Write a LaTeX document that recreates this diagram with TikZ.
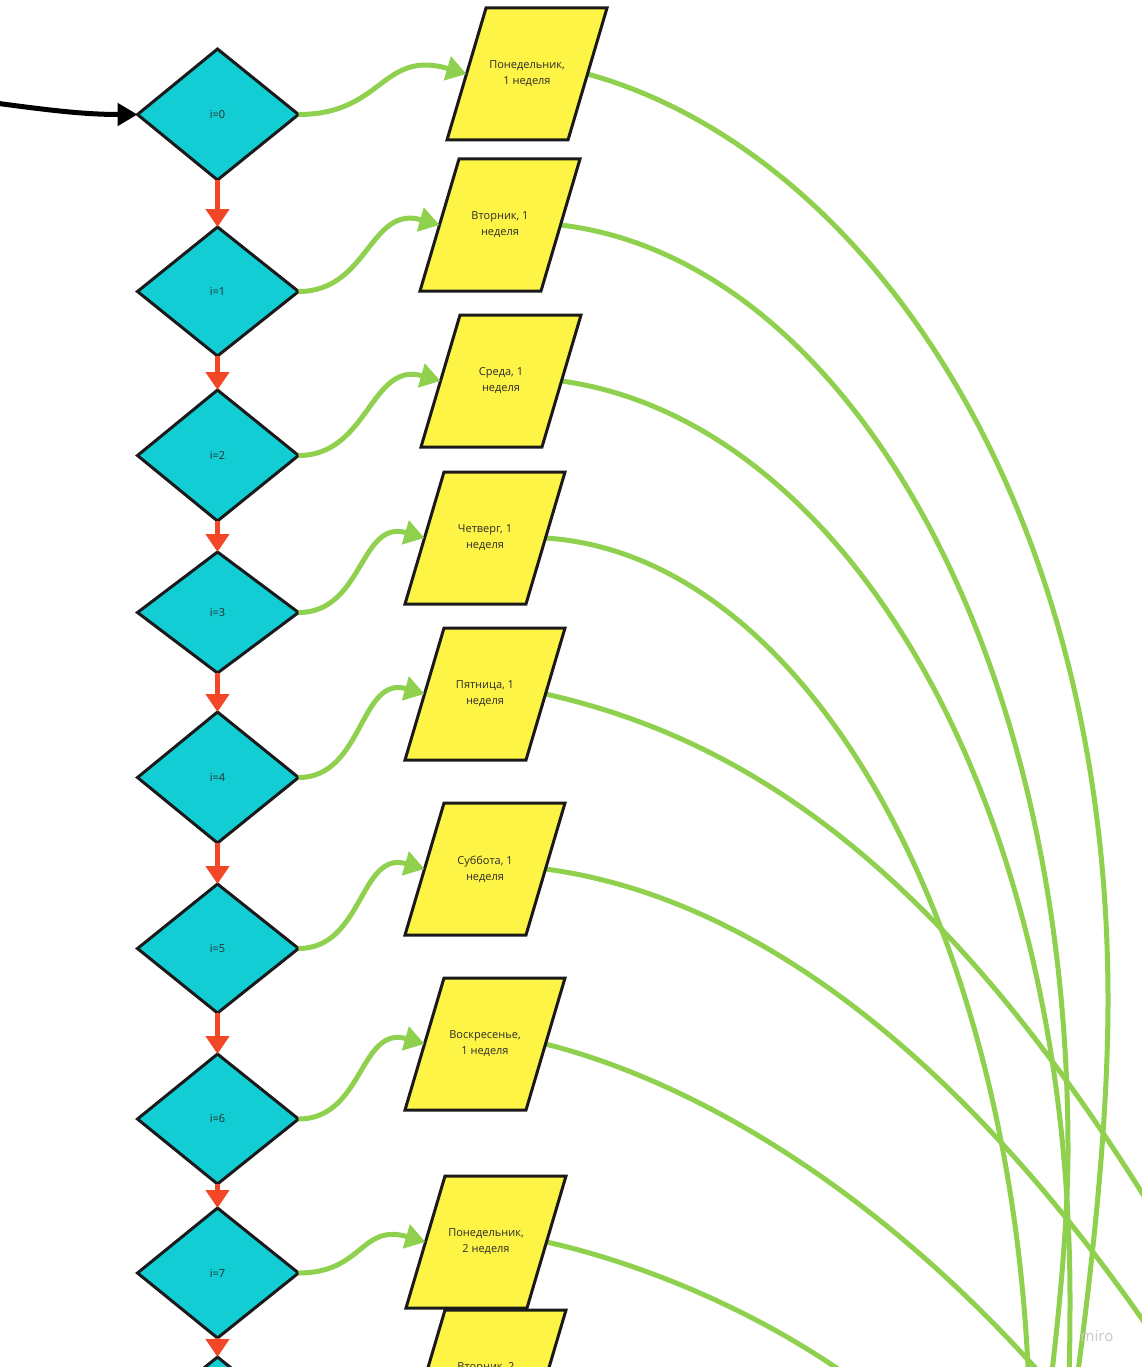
\documentclass[tikz,border=0pt]{standalone}
\usepackage{fontspec}
\setmainfont{Open Sans}
\usetikzlibrary{arrows.meta}
\definecolor{dcyan}{HTML}{12CDD4}
\definecolor{pyellow}{HTML}{FEF445}
\definecolor{lgreen}{HTML}{8FD14F}
\definecolor{ared}{HTML}{F24726}
\definecolor{olin}{HTML}{1A1A1A}
\definecolor{tcol}{HTML}{2B2B2B}
\definecolor{wmcol}{HTML}{C8C8C8}

\newcommand{\Dia}[4]{%
  \path[diastyle] (137.5,#2) -- (217.5,{#2-#3/2}) -- (298.5,#2) -- (217.5,{#2+#3/2}) -- cycle;
  \node[diatext] (#1) at (217.5,#2) {#4};
  \coordinate (#1-t) at (217.5,{#2-#3/2});
  \coordinate (#1-b) at (217.5,{#2+#3/2});
  \coordinate (#1-l) at (137.5,#2);
  \coordinate (#1-r) at (298.5,#2);
}
\newcommand{\ParaPts}[3]{%
  \coordinate (#1-c) at (#2,#3);
  \coordinate (#1-l) at ({#2-60.5},#3);
  \coordinate (#1-r) at ({#2+60.5},#3);
}
\newcommand{\ParaShape}[4]{%
  \path[parastyle] ({#2-41},{#3-66}) -- ({#2+80},{#3-66}) -- ({#2+41},{#3+66}) -- ({#2-80},{#3+66}) -- cycle;
  \node[paratext] (#1) at (#2,#3) {#4};
}

\begin{document}
\begin{tikzpicture}[x=1pt,y=-1pt,
  diastyle/.style={fill=dcyan,draw=olin,line width=3pt},
  parastyle/.style={fill=pyellow,draw=olin,line width=3pt},
  diatext/.style={inner sep=0pt,text=tcol,font=\fontsize{11}{14}\selectfont},
  paratext/.style={inner sep=0pt,align=center,text=tcol,font=\fontsize{11}{16}\selectfont},
  longg/.style={draw=lgreen,line width=5pt},
  garr/.style={draw=lgreen,line width=5pt,-{Triangle[length=20pt,width=24pt]}},
  redarr/.style={draw=ared,line width=5pt,-{Triangle[length=18pt,width=23pt]}},
  blkarr/.style={draw=black,line width=5pt,-{Triangle[length=20pt,width=22pt]}},
  wm/.style={text=wmcol,font=\fontsize{15}{18}\selectfont}]
\useasboundingbox (0,0) rectangle (1142,1367);
\clip (0,0) rectangle (1142,1367);

% anchor points of the parallelograms
\ParaPts{P0}{527}{74}
\ParaPts{P1}{500}{225}
\ParaPts{P2}{501}{381}
\ParaPts{P3}{485}{538}
\ParaPts{P4}{485}{694}
\ParaPts{P5}{485}{869}
\ParaPts{P6}{485}{1044}
\ParaPts{P7}{486}{1242}
\ParaPts{P8}{486}{1378}

% free ends of the long connectors (below / right of the visible area)
\coordinate (m0) at (1108,1000); \coordinate (e0) at (1060,1500);
\coordinate (m1) at (1068,1150); \coordinate (e1) at (1035,1500);
\coordinate (m2) at (1070,1300); \coordinate (e2) at (1062,1500);
\coordinate (e3) at (1030,1450);
\coordinate (e4) at (1250,1380);
\coordinate (e5) at (1180,1375);
\coordinate (e6) at (1080,1420);
\coordinate (e7) at (880,1400);
\coordinate (in0) at (-20,101);

% long green connectors
\draw[longg] (P0-r) .. controls (862,150) and (1108,495) .. (m0) .. controls (1108,1150) and (1085,1330) .. (e0);
\draw[longg] (P1-r) .. controls (840,258) and (1068,639) .. (m1) .. controls (1068,1250) and (1050,1400) .. (e1);
\draw[longg] (P2-r) .. controls (842,420) and (1070,793) .. (m2) .. controls (1070,1400) and (1066,1450) .. (e2);
\draw[longg] (P3-r) .. controls (813,555) and (1030,947) .. (e3);
\draw[longg] (P4-r) .. controls (795,750) and (1010,930) .. (e4);
\draw[longg] (P5-r) .. controls (740,895) and (960,1040) .. (e5);
\draw[longg] (P6-r) .. controls (700,1083) and (900,1200) .. (e6);
\draw[longg] (P7-r) .. controls (650,1265) and (780,1320) .. (e7);

% parallelograms
\ParaShape{P0}{527}{74}{Понедельник,\\1 неделя}
\ParaShape{P1}{500}{225}{Вторник, 1\\неделя}
\ParaShape{P2}{501}{381}{Среда, 1\\неделя}
\ParaShape{P3}{485}{538}{Четверг, 1\\неделя}
\ParaShape{P4}{485}{694}{Пятница, 1\\неделя}
\ParaShape{P5}{485}{869}{Суббота, 1\\неделя}
\ParaShape{P6}{485}{1044}{Воскресенье,\\1 неделя}
\ParaShape{P7}{486}{1242}{Понедельник,\\2 неделя}
\ParaShape{P8}{486}{1376}{Вторник, 2\\неделя}

% diamonds
\Dia{D0}{114.5}{131}{i=0}
\Dia{D1}{291.5}{129}{i=1}
\Dia{D2}{455.5}{131}{i=2}
\Dia{D3}{612.5}{121}{i=3}
\Dia{D4}{777.5}{131}{i=4}
\Dia{D5}{948.5}{129}{i=5}
\Dia{D6}{1119}{130}{i=6}
\Dia{D7}{1273}{130}{i=7}
\Dia{D8}{1422}{130}{}

% entry arrow
\draw[blkarr] (in0) .. controls (40,109) and (80,114.5) .. (D0-l);

% red flow arrows
\draw[redarr] (D0-b) -- (D1-t);
\draw[redarr] (D1-b) -- (D2-t);
\draw[redarr] (D2-b) -- (D3-t);
\draw[redarr] (D3-b) -- (D4-t);
\draw[redarr] (D4-b) -- (D5-t);
\draw[redarr] (D5-b) -- (D6-t);
\draw[redarr] (D6-b) -- (D7-t);
\draw[redarr] (D7-b) -- (D8-t);

% green arrows diamond -> parallelogram
\draw[garr] (D0-r) .. controls +(85,0) and +(-85,-25) .. (P0-l);
\draw[garr] (D1-r) .. controls +(70,0) and +(-70,-20) .. (P1-l);
\draw[garr] (D2-r) .. controls +(70,0) and +(-70,-20) .. (P2-l);
\draw[garr] (D3-r) .. controls +(65,0) and +(-65,-19) .. (P3-l);
\draw[garr] (D4-r) .. controls +(65,0) and +(-65,-19) .. (P4-l);
\draw[garr] (D5-r) .. controls +(65,0) and +(-65,-19) .. (P5-l);
\draw[garr] (D6-r) .. controls +(65,0) and +(-65,-19) .. (P6-l);
\draw[garr] (D7-r) .. controls +(65,0) and +(-65,-19) .. (P7-l);

% watermark
\node[wm] (miro) at (1097,1336) {miro};
\end{tikzpicture}
\end{document}
